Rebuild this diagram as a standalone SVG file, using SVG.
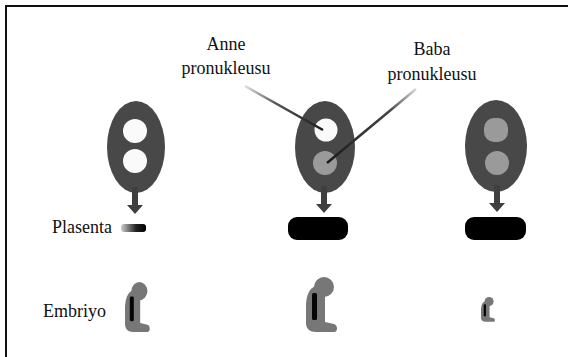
<svg xmlns="http://www.w3.org/2000/svg" width="568" height="357" viewBox="0 0 568 357">
  <defs>
    <style>
      .lbl { font-family: "Liberation Serif", "Times New Roman", serif; font-size: 18px; fill: #111; }
      .cell { fill: #484848; }
      .pn-w { fill: #fafafa; }
      .pn-g { fill: #9a9a9a; }
      .arrow { fill: #3f3f3f; }
      .plac { fill: #000; }
      .emb { fill: #777; }
      .emb-bar { fill: #050505; }
    </style>
    <linearGradient id="leaderA" gradientUnits="userSpaceOnUse" x1="245" y1="86" x2="323" y2="130">
      <stop offset="0" stop-color="#e0e0e0"/>
      <stop offset="0.4" stop-color="#555"/>
      <stop offset="1" stop-color="#1a1a1a"/>
    </linearGradient>
    <linearGradient id="leaderB" gradientUnits="userSpaceOnUse" x1="416" y1="89" x2="327" y2="163">
      <stop offset="0" stop-color="#d8d8d8"/>
      <stop offset="0.3" stop-color="#444"/>
      <stop offset="1" stop-color="#1a1a1a"/>
    </linearGradient>
    <linearGradient id="placSmall" x1="0" y1="0" x2="1" y2="0">
      <stop offset="0" stop-color="#cfcfcf"/>
      <stop offset="0.6" stop-color="#222"/>
      <stop offset="1" stop-color="#000"/>
    </linearGradient>
    <!-- downward arrow, tip at origin -->
    <path id="down" class="arrow" d="M-3 -27 H3 V-9 H8 L0 0 L-8 -9 H-3 Z"/>
    <!-- curled embryo silhouette, 32 x 55 box -->
    <g id="embryo">
      <circle class="emb" cx="18" cy="10" r="10"/>
      <path class="emb" d="M10 9 C3 11 0 19 0 30 L0 46 C0 52 4 55 10 55 L28 55 C32 55 32 48 28 47 L19 45 L19 14 Z"/>
      <rect class="emb-bar" x="6" y="16" width="5" height="27" rx="1.5"/>
    </g>
  </defs>

  <rect width="568" height="357" fill="#fff"/>
  <!-- frame -->
  <path d="M6 357 V6 H568" fill="none" stroke="#111" stroke-width="2"/>

  <!-- row labels -->
  <g id="label-plasenta"><text class="lbl" x="52" y="233">Plasenta</text></g>
  <g id="label-embriyo"><text class="lbl" x="43" y="317">Embriyo</text></g>
  <g id="label-anne">
    <text class="lbl" x="226" y="50" text-anchor="middle">Anne</text>
    <text class="lbl" x="226" y="74" text-anchor="middle">pronukleusu</text>
  </g>
  <g id="label-baba">
    <text class="lbl" x="432" y="55" text-anchor="middle">Baba</text>
    <text class="lbl" x="432" y="80" text-anchor="middle">pronukleusu</text>
  </g>

  <!-- zygote 1: two maternal pronuclei -->
  <g id="zygote-1">
    <ellipse class="cell" cx="136" cy="147" rx="29" ry="46"/>
    <circle class="pn-w" cx="135" cy="131" r="12"/>
    <circle class="pn-w" cx="135" cy="161" r="12"/>
  </g>
  <!-- zygote 2: maternal + paternal -->
  <g id="zygote-2">
    <ellipse class="cell" cx="325" cy="147" rx="30" ry="46"/>
    <circle class="pn-w" cx="326" cy="130" r="11.5"/>
    <circle class="pn-g" cx="325" cy="163" r="12"/>
  </g>
  <!-- zygote 3: two paternal pronuclei -->
  <g id="zygote-3">
    <ellipse class="cell" cx="496" cy="146" rx="31" ry="46"/>
    <rect class="pn-g" x="484" y="118" width="24" height="24" rx="10"/>
    <circle class="pn-g" cx="497" cy="163" r="12"/>
  </g>

  <!-- placentas -->
  <g id="placenta-1"><rect x="121" y="224" width="25" height="8" rx="3" fill="url(#placSmall)"/></g>
  <g id="placenta-2"><rect class="plac" x="288" y="217" width="60" height="23" rx="9"/></g>
  <g id="placenta-3"><rect class="plac" x="465" y="217" width="61" height="23" rx="9"/></g>

  <!-- embryos -->
  <g id="embryo-1"><use href="#embryo" transform="translate(125 282) scale(0.8 0.91)"/></g>
  <g id="embryo-2"><use href="#embryo" transform="translate(306 277)"/></g>
  <g id="embryo-3"><use href="#embryo" transform="translate(481 297) scale(0.45)"/></g>

  <!-- connectors -->
  <g id="connectors">
    <use href="#down" x="135" y="214"/>
    <use href="#down" x="324" y="213"/>
    <use href="#down" x="497" y="212"/>
    <line x1="245" y1="86" x2="323" y2="130" stroke="url(#leaderA)" stroke-width="2.5"/>
    <line x1="416" y1="89" x2="327" y2="163" stroke="url(#leaderB)" stroke-width="2.5"/>
  </g>
</svg>
